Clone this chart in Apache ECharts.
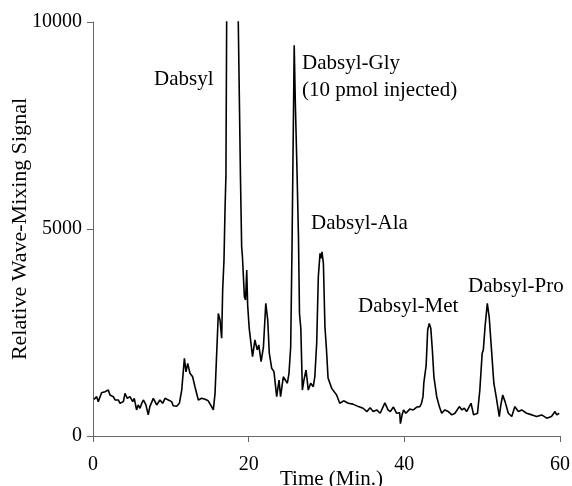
<!DOCTYPE html>
<html>
<head>
<meta charset="utf-8">
<script src="https://cdn.jsdelivr.net/npm/echarts@6/dist/echarts.min.js"></script>
<style>
html,body{margin:0;padding:0;background:#fff;}
#chart{width:572px;height:486px;}
</style>
</head>
<body>
<div id="chart"></div>
<script>
// Time (min)
var times = [
0.13,0.47,0.68,1.1,1.54,1.97,2.18,2.61,2.83,3.25,3.47,3.9,4.11,4.41,4.75,5.1,5.3,5.6,5.8,6.04,
6.26,6.47,6.8,7.1,7.3,7.75,7.97,8.18,8.6,8.95,9.25,9.68,10.1,10.3,10.75,11.1,11.4,11.74,11.95,12.17,
12.46,12.8,13.1,13.53,13.96,14.17,14.4,14.8,15.2,15.46,15.68,16.1,16.32,16.53,16.66,16.83,16.96,17.08,17.18,17.5,
18.0,18.4,18.65,18.95,19.1,19.2,19.45,19.6,19.75,19.87,20.07,20.3,20.5,20.8,21.1,21.3,21.6,21.9,22.2,22.45,
22.65,22.96,23.25,23.6,23.9,24.1,24.45,24.67,24.97,25.18,25.4,25.57,25.74,25.85,26.0,26.2,26.4,26.53,26.7,26.9,
27.1,27.37,27.66,27.97,28.3,28.5,28.74,28.95,29.17,29.3,29.42,29.6,29.8,30.0,30.2,30.67,30.9,31.3,31.7,32.2,
32.8,33.4,34.1,34.7,35.2,35.6,36.0,36.45,36.9,37.5,37.9,38.2,38.6,39.0,39.4,39.5,39.7,39.9,40.2,40.7,
41.15,41.6,42.0,42.2,42.4,42.5,42.8,43.0,43.2,43.4,43.6,43.8,44.16,44.5,44.8,45.2,45.65,46.1,46.5,47.07,
47.4,47.7,48.0,48.57,48.9,49.4,49.7,50.0,50.15,50.37,50.66,50.9,51.2,51.5,51.8,52.2,52.4,52.64,52.94,53.36,
53.8,54.2,54.65,55.08,55.7,56.4,57.0,57.65,58.3,58.9,59.36,59.58,59.9
];
// Relative wave-mixing signal
var signal = [
886,950,830,1045,1070,1110,990,950,870,870,790,830,1030,910,950,830,910,630,750,670,
790,870,750,510,710,910,950,750,870,790,910,870,830,730,720,790,1110,1875,1550,1755,
1515,1430,1190,870,910,950,886,850,720,630,1030,2960,2800,2360,3525,4250,5460,6300,10300,13500,
14500,13000,10200,6200,4570,4330,3365,3285,4010,3165,2600,2560,1915,2320,2080,2200,1795,2155,3205,2800,
2000,1635,1555,950,1350,950,1430,1475,1275,1515,2155,4570,7500,9440,8000,6500,4800,2960,2600,1110,
1350,1595,1110,1275,1190,1430,2240,3850,4410,4290,4450,4170,2640,2080,1400,1150,1110,990,790,850,
790,770,710,670,590,680,590,630,550,800,630,590,700,550,560,300,500,630,550,650,
630,700,710,790,950,1275,1700,2560,2720,2600,2080,1430,950,710,550,630,590,510,550,710,
630,670,590,790,510,550,1110,2000,2080,2640,3205,2880,2080,1275,950,470,750,990,830,550,
470,710,590,630,550,510,470,510,430,470,590,510,550
];
var xTicks = [0, 20, 40, 60];
var yTicks = [0, 5000, 10000];
var peakLabels = ['Dabsyl', 'Dabsyl-Gly', '(10 pmol injected)', 'Dabsyl-Ala', 'Dabsyl-Met', 'Dabsyl-Pro'];

var points = times.map(function (t, i) { return [t, signal[i]]; });
var FONT = 'Liberation Serif, Times New Roman, serif';

var chart = echarts.init(document.getElementById('chart'), null, {renderer: 'canvas'});
var labelPos = [[154, 80], [302, 64], [302, 91], [311, 224], [358, 307], [468, 287]];
chart.setOption({
  animation: false,
  backgroundColor: '#fff',
  grid: {left: 93, right: 12, top: 22, bottom: 50, containLabel: false, outerBoundsMode: 'none'},
  xAxis: {
    type: 'value', min: xTicks[0], max: xTicks[xTicks.length - 1], interval: 20,
    name: 'Time (Min.)', nameLocation: 'middle', nameGap: 33, nameMoveOverlap: false,
    nameTextStyle: {fontFamily: FONT, fontSize: 21, color: '#000', padding: [0, 0, 0, 10]},
    axisLine: {show: true, lineStyle: {color: '#666', width: 1}},
    axisTick: {show: true, inside: false, length: 6, lineStyle: {color: '#666'}},
    axisLabel: {fontFamily: FONT, fontSize: 20, color: '#000', margin: 19, formatter: function (v) { return String(v); }},
    splitLine: {show: false}
  },
  yAxis: {
    type: 'value', min: yTicks[0], max: yTicks[yTicks.length - 1], interval: 5000,
    name: 'Relative Wave-Mixing Signal', nameLocation: 'middle', nameGap: 62, nameMoveOverlap: false,
    nameTextStyle: {fontFamily: FONT, fontSize: 22, color: '#000'},
    axisLine: {show: true, lineStyle: {color: '#666', width: 1}},
    axisTick: {show: true, inside: false, length: 6, lineStyle: {color: '#666'}},
    axisLabel: {fontFamily: FONT, fontSize: 20, color: '#000', margin: 11, formatter: function (v) { return String(v); }},
    splitLine: {show: false}
  },
  series: [{
    type: 'line', data: points, showSymbol: false, symbol: 'none', smooth: false, clip: true,
    lineStyle: {color: '#000', width: 1.6}
  }],
  graphic: peakLabels.map(function (txt, i) {
    return {
      type: 'text', left: labelPos[i][0], top: labelPos[i][1] - 11,
      style: {text: txt, fontFamily: FONT, fontSize: 21, fill: '#000'}
    };
  })
});
</script>
</body>
</html>
